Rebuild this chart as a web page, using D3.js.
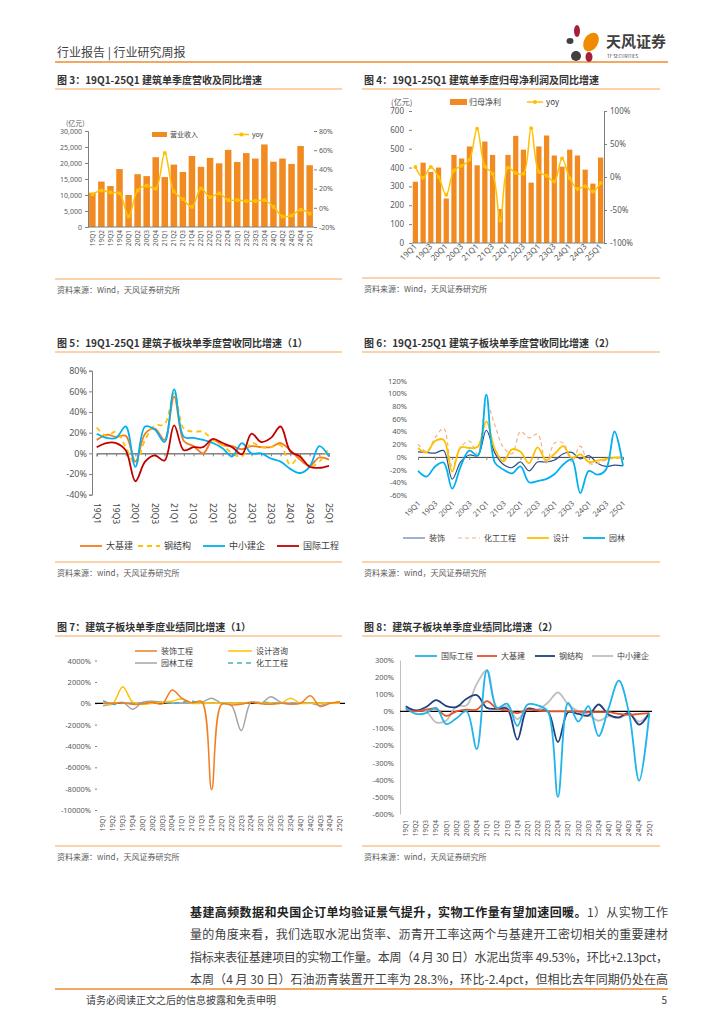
<!DOCTYPE html>
<meta charset="utf-8">

<!-- Load d3.js -->
<script src="https://d3js.org/d3.v7.min.js"></script>
<style>
  body { margin: 0; background: #fff; }
  svg text { font-family: "Noto Sans CJK SC", "Noto Sans", sans-serif; }
</style>

<div id="page"></div>
<script>
    // quarter labels shared by every chart
    const quarters = ["19Q1", "19Q2", "19Q3", "19Q4", "20Q1", "20Q2", "20Q3", "20Q4",
        "21Q1", "21Q2", "21Q3", "21Q4", "22Q1", "22Q2", "22Q3", "22Q4",
        "23Q1", "23Q2", "23Q3", "23Q4", "24Q1", "24Q2", "24Q3", "24Q4", "25Q1"];
    const everyOther = ["19Q1", "19Q3", "20Q1", "20Q3", "21Q1", "21Q3", "22Q1", "22Q3",
        "23Q1", "23Q3", "24Q1", "24Q3", "25Q1"];

    // fig 3: revenue (亿元) and yoy (%)
    const revenue = [10700, 14200, 12800, 18100, 10000, 16500, 15900, 21800, 15600, 19500, 17200, 22200,
        18800, 21600, 19900, 24100, 20300, 23100, 21400, 25800, 20400, 21400, 19700, 25300, 19300];
    const revenueYoy = [14, 18, 16, 15, -9, 18, 23, 20, 57, 17, 9, 1, 20, 11, 15, 8, 8, 7, 7, 8, 1, -9, -8, -2, -6];
    const revTicks = [0, 5000, 10000, 15000, 20000, 25000, 30000];
    const revYoyTicks = [-20, 0, 20, 40, 60, 80];

    // fig 4: net profit (亿元) and yoy (%)
    const netProfit = [325, 426, 377, 400, 236, 467, 448, 512, 412, 538, 467, 180, 467, 568, 495, 320,
        512, 570, 464, 405, 495, 464, 389, 315, 453];
    const netProfitYoy = [15, -1, 15, 0, -27, 10, 17, 26, 73, 16, 5, -66, 14, 6, 5, 74, 8, 2, -7, 28, -2, -18, -14, -22, -9];
    const profitTicks = [0, 100, 200, 300, 400, 500, 600, 700];
    const profitYoyTicks = [-100, -50, 0, 50, 100];

    // fig 5: revenue yoy by sub-sector (1), %
    const infra5 = [13, 18, 16, 17, -8, 19, 24, 13, 55, 12, 7, 0, 13, 8, 7, 4, 7, 6, 6, 10, 3, -6, -12, -4, -6];
    const steel5 = [25, 17, 21, 6, -10, 13, 27, 28, 58, 24, 21, 21, 13, 8, 0, -3, 10, 6, 6, 8, -11, -3, -13, -8, 5];
    const smallCo5 = [19, 15, 15, 26, -13, 26, 23, 11, 62, 16, 15, 13, 10, 5, -3, 10, 0, 0, -5, -8, -15, -19, -13, 7, -3];
    const intl5 = [6, 10, 10, 3, -27, -8, -2, -7, 27, 3, 6, 6, 14, 10, 6, -1, 19, 11, 15, 26, 2, -3, -13, -14, -12];
    const ticks5 = [-40, -20, 0, 20, 40, 60, 80];

    // fig 6: revenue yoy by sub-sector (2), %
    const deco6 = [8, 7, 6, 10, -35, -8, 3, 2, 42, 6, -12, -17, -8, -22, -8, -8, -5, 5, 7, -3, 2, -10, -15, -13, -14];
    const chem6 = [20, 8, 30, 45, -15, 15, 25, 5, 85, 50, 15, 5, 40, 30, 36, -10, 22, 22, -8, 17, -10, -10, -5, -2, -2];
    const design6 = [14, 7, 25, 27, -23, 15, 14, 16, 56, 12, -7, 12, 8, -10, 15, -5, 5, 17, -2, 4, -8, -6, -3, -1, -1];
    const garden6 = [-22, -31, -15, -9, -50, -15, 10, 2, 98, -9, -20, -26, -15, -40, -38, -35, -27, -12, -4, -57, -22, -28, -20, 40, -14];
    const ticks6 = [-60, -40, -20, 0, 20, 40, 60, 80, 100, 120];

    // fig 7: profit yoy by sub-sector (1), %
    const deco7 = [0, 0, 50, -100, -50, 100, -50, 1250, 450, 50, 150, -8100, -100, -150, -100, 100, -50, -100, 0, -50, 0, 700, -300, 0, 150];
    const design7 = [0, 0, 1550, 100, -100, 0, 100, 200, 400, 0, 0, 0, 0, 0, 0, 100, 0, 0, 0, 480, 0, 0, 0, 0, 0];
    const garden7 = [-220, -100, 100, -560, 100, 200, 100, 0, 0, 0, 100, 470, 0, -200, -2560, 100, 0, 620, 100, -100, 0, 0, -200, 0, 100];
    const chem7 = [250, -100, 0, 0, 0, 50, 100, 0, 100, 200, 0, 0, 0, 0, 0, 50, 100, 50, 0, 0, 0, 0, 0, 50, 100];
    const ticks7 = [-10000, -8000, -6000, -4000, -2000, 0, 2000, 4000];

    // fig 8: profit yoy by sub-sector (2), %
    const intl8 = [20, -15, -10, 20, -75, -40, 0, -220, 240, 20, 45, -85, 40, 35, 0, -500, 50, -60, 30, -145, 20, 180, -10, -405, -10];
    const infra8 = [10, 0, 10, 15, -27, 0, 10, 10, 60, 15, 5, -10, 10, 5, 0, 0, 0, 0, -5, -5, -5, -15, -20, -15, -10];
    const steel8 = [30, 5, 25, 65, 31, 25, 74, 95, 20, 15, 15, -165, 15, 5, 0, -180, -5, -15, -25, 40, -20, -35, -10, -78, -10];
    const smallCo8 = [20, 5, 0, -65, -53, 30, 35, 160, 240, 20, 30, -45, 15, 10, 50, 110, 40, 0, -20, -55, -30, -40, -15, -60, -10];
    const ticks8 = [-600, -500, -400, -300, -200, -100, 0, 100, 200, 300];

    const ORANGE = "#F28A22", GOLD = "#FFC000", GREY_TXT = "#595959";
    const pct = d => d + "%";

    const page = d3.select("#page").append("svg")
        .attr("width", 724)
        .attr("height", 1024);

    // ---------- header ----------
    page.append("text").attr("x", 57).attr("y", 57).attr("font-size", 12).attr("fill", "#3f3f3f")
        .text("行业报告 | 行业研究周报");
    page.append("line").attr("x1", 55).attr("x2", 668).attr("y1", 62).attr("y2", 62)
        .attr("stroke", "#EE8A2E").attr("stroke-width", 1.5);
    // logo petals
    const logo = page.append("g");
    logo.append("ellipse").attr("cx", 577).attr("cy", 31).attr("rx", 3).attr("ry", 6).attr("fill", "#A3213A");
    logo.append("ellipse").attr("cx", 591).attr("cy", 42).attr("rx", 7).attr("ry", 10).attr("transform", "rotate(30,591,42)").attr("fill", "#F08A00");
    logo.append("ellipse").attr("cx", 570).attr("cy", 41).attr("rx", 3.5).attr("ry", 3).attr("fill", "#404040");
    logo.append("circle").attr("cx", 576).attr("cy", 56).attr("r", 5).attr("fill", "#404040");
    logo.append("ellipse").attr("cx", 589).attr("cy", 57).attr("rx", 3.5).attr("ry", 5).attr("fill", "#A3213A");
    page.append("text").attr("x", 606).attr("y", 47).attr("font-size", 15).attr("font-weight", "bold")
        .attr("fill", "#404040").text("天风证券");
    page.append("text").attr("x", 607).attr("y", 58).attr("font-size", 4.5).attr("fill", "#404040")
        .text("TF SECURITIES");

    // ---------- panel frame: title, rules, source ----------
    function panel(x0, x1, titleY, title, srcRuleY, src) {
        page.append("text").attr("x", x0 + 2).attr("y", titleY).attr("font-size", 10).attr("font-weight", "bold")
            .attr("fill", "#333").text(title);
        page.append("line").attr("x1", x0).attr("x2", x1).attr("y1", titleY + 5).attr("y2", titleY + 5)
            .attr("stroke", "#F5A65B").attr("stroke-width", 1);
        page.append("line").attr("x1", x0).attr("x2", x1).attr("y1", srcRuleY).attr("y2", srcRuleY)
            .attr("stroke", "#F5A65B").attr("stroke-width", 1);
        page.append("text").attr("x", x0 + 2).attr("y", srcRuleY + 14).attr("font-size", 8)
            .attr("fill", GREY_TXT).text(src);
    }

    function styleAxis(g, size) {
        g.selectAll("text").attr("font-size", size).attr("fill", GREY_TXT)
            .style("font-family", '"Noto Sans", "Noto Sans CJK SC", sans-serif');
        g.selectAll("line").attr("stroke", "#7f7f7f");
        g.select(".domain").attr("stroke", "#7f7f7f");
        return g;
    }

    const smooth = d3.curveCatmullRom.alpha(0.5);

    function drawSeries(g, x, y, list) {
        list.forEach(function (s) {
            g.append("path")
                .datum(s.values)
                .attr("fill", "none")
                .attr("stroke", s.color)
                .attr("stroke-width", s.width || 1.5)
                .attr("stroke-dasharray", s.dash || null)
                .attr("d", d3.line()
                    .x(function (d, i) { return x(quarters[i]); })
                    .y(function (d) { return y(d); })
                    .curve(smooth));
        });
    }

    function legendItem(g, x, y, len, s, label, size) {
        g.append("line").attr("x1", x).attr("x2", x + len).attr("y1", y).attr("y2", y)
            .attr("stroke", s.color).attr("stroke-width", s.width || 1.5)
            .attr("stroke-dasharray", s.dash || null);
        g.append("text").attr("x", x + len + 4).attr("y", y + size * 0.38).attr("font-size", size)
            .attr("fill", "#404040").text(label);
    }

    // rotated category labels
    function xLabels(g, x, cats, y, angle, size, dx) {
        g.selectAll(null).data(cats).enter().append("text")
            .attr("transform", function (d) { return `translate(${x(d) + dx}, ${y}) rotate(${angle})`; })
            .attr("text-anchor", "end")
            .attr("font-size", size)
            .attr("fill", GREY_TXT)
            .style("font-family", '"Noto Sans", sans-serif')
            .text(function (d) { return d; });
    }

    // ---------- fig 3 ----------
    panel(55, 342, 84, "图 3：19Q1-25Q1 建筑单季度营收及同比增速", 279, "资料来源：Wind，天风证券研究所");
    const g3 = page.append("g");
    const x3 = d3.scaleBand().domain(quarters).range([88, 314]).paddingInner(0.28).paddingOuter(0.12);
    const y3 = d3.scaleLinear().domain([0, 30000]).range([227, 131]);
    const y3r = d3.scaleLinear().domain([-20, 80]).range([227, 131]);

    g3.selectAll(".bar").data(revenue).enter().append("rect")
        .attr("x", function (d, i) { return x3(quarters[i]); })
        .attr("y", function (d) { return y3(d); })
        .attr("width", x3.bandwidth())
        .attr("height", function (d) { return 227 - y3(d); })
        .attr("fill", ORANGE);

    styleAxis(g3.append("g").attr("transform", "translate(88,0)")
        .call(d3.axisLeft(y3).tickValues(revTicks).tickSize(3).tickPadding(3).tickFormat(d3.format(","))), 7);
    styleAxis(g3.append("g").attr("transform", "translate(314,0)")
        .call(d3.axisRight(y3r).tickValues(revYoyTicks).tickSize(3).tickPadding(2).tickFormat(pct)), 7)
        .select(".domain").remove();
    g3.append("line").attr("x1", 88).attr("x2", 314).attr("y1", 227).attr("y2", 227).attr("stroke", "#7f7f7f");
    xLabels(g3, function (d) { return x3(d) + x3.bandwidth() / 2; }, quarters, 230, -90, 6.5, 2.3);

    const yoyLine3 = d3.line().x(function (d, i) { return x3(quarters[i]) + x3.bandwidth() / 2; })
        .y(function (d) { return y3r(d); }).curve(smooth);
    g3.append("path").datum(revenueYoy).attr("fill", "none").attr("stroke", GOLD).attr("stroke-width", 1.5).attr("d", yoyLine3);
    g3.selectAll(".m3").data(revenueYoy).enter().append("rect")
        .attr("x", function (d, i) { return x3(quarters[i]) + x3.bandwidth() / 2 - 1.8; })
        .attr("y", function (d) { return y3r(d) - 1.8; })
        .attr("width", 3.6).attr("height", 3.6).attr("fill", GOLD);

    g3.append("text").attr("x", 66).attr("y", 126).attr("font-size", 7).attr("fill", GREY_TXT).text("(亿元)");
    g3.append("rect").attr("x", 152).attr("y", 132).attr("width", 15).attr("height", 5).attr("fill", ORANGE);
    g3.append("text").attr("x", 170).attr("y", 137).attr("font-size", 7).attr("fill", "#404040").text("营业收入");
    g3.append("line").attr("x1", 234).attr("x2", 249).attr("y1", 134.5).attr("y2", 134.5).attr("stroke", GOLD).attr("stroke-width", 1.5);
    g3.append("rect").attr("x", 239.7).attr("y", 132.7).attr("width", 3.6).attr("height", 3.6).attr("fill", GOLD);
    g3.append("text").attr("x", 252).attr("y", 137).attr("font-size", 7).attr("fill", "#404040").text("yoy");

    // ---------- fig 4 ----------
    panel(362, 660, 84, "图 4：19Q1-25Q1 建筑单季度归母净利润及同比增速", 278, "资料来源：Wind，天风证券研究所");
    const g4 = page.append("g");
    const x4 = d3.scaleBand().domain(quarters).range([412, 604]).paddingInner(0.32).paddingOuter(0.1);
    const y4 = d3.scaleLinear().domain([0, 700]).range([243, 111]);
    const y4r = d3.scaleLinear().domain([-100, 100]).range([243, 111]);

    g4.selectAll(".bar").data(netProfit).enter().append("rect")
        .attr("x", function (d, i) { return x4(quarters[i]); })
        .attr("y", function (d) { return y4(d); })
        .attr("width", x4.bandwidth())
        .attr("height", function (d) { return 243 - y4(d); })
        .attr("fill", ORANGE);

    styleAxis(g4.append("g").attr("transform", "translate(412,0)")
        .call(d3.axisLeft(y4).tickValues(profitTicks).tickSize(3).tickPadding(5)), 8)
        .select(".domain").remove();
    styleAxis(g4.append("g").attr("transform", "translate(604,0)")
        .call(d3.axisRight(y4r).tickValues(profitYoyTicks).tickSize(3).tickPadding(3).tickFormat(pct)), 8);
    g4.append("line").attr("x1", 412).attr("x2", 604).attr("y1", 243).attr("y2", 243).attr("stroke", "#7f7f7f");
    xLabels(g4, function (d) { return x4(d) + x4.bandwidth() / 2; }, everyOther, 247, -45, 8, 2);

    const yoyLine4 = d3.line().x(function (d, i) { return x4(quarters[i]) + x4.bandwidth() / 2; })
        .y(function (d) { return y4r(d); }).curve(smooth);
    g4.append("path").datum(netProfitYoy).attr("fill", "none").attr("stroke", GOLD).attr("stroke-width", 1.5).attr("d", yoyLine4);
    g4.selectAll(".m4").data(netProfitYoy).enter().append("circle")
        .attr("cx", function (d, i) { return x4(quarters[i]) + x4.bandwidth() / 2; })
        .attr("cy", function (d) { return y4r(d); })
        .attr("r", 2).attr("fill", GOLD);

    g4.append("text").attr("x", 391).attr("y", 105).attr("font-size", 8).attr("fill", GREY_TXT).text("(亿元)");
    g4.append("rect").attr("x", 450).attr("y", 99).attr("width", 17).attr("height", 6).attr("fill", ORANGE);
    g4.append("text").attr("x", 469).attr("y", 105).attr("font-size", 8).attr("fill", "#404040").text("归母净利");
    g4.append("line").attr("x1", 527).attr("x2", 543).attr("y1", 102).attr("y2", 102).attr("stroke", GOLD).attr("stroke-width", 1.5);
    g4.append("circle").attr("cx", 535).attr("cy", 102).attr("r", 2).attr("fill", GOLD);
    g4.append("text").attr("x", 546).attr("y", 105).attr("font-size", 8).attr("fill", "#404040").text("yoy");

    // ---------- fig 5 ----------
    panel(55, 342, 347, "图 5：19Q1-25Q1 建筑子板块单季度营收同比增速（1）", 562, "资料来源：wind，天风证券研究所");
    const g5 = page.append("g");
    const x5 = d3.scalePoint().domain(quarters).range([96.7, 329]);
    const y5 = d3.scaleLinear().domain([-40, 80]).range([494.7, 370.7]);
    styleAxis(g5.append("g").attr("transform", "translate(92,0)")
        .call(d3.axisLeft(y5).tickValues(ticks5).tickSize(3).tickPadding(2).tickFormat(pct)), 9);
    styleAxis(g5.append("g").attr("transform", `translate(0,${y5(0)})`)
        .call(d3.axisBottom(x5).tickSize(3).tickFormat("")), 8)
        .select(".domain").attr("stroke", "#404040");
    g5.selectAll(null).data(everyOther).enter().append("text")
        .attr("transform", function (d) { return `translate(${x5(d) - 3}, 503) rotate(90)`; })
        .attr("font-size", 8.5).attr("fill", "#404040")
        .style("font-family", '"Noto Sans", sans-serif')
        .text(function (d) { return d; });

    const s5 = [
        { values: infra5, color: "#F47B20", width: 1.8, name: "大基建" },
        { values: steel5, color: GOLD, width: 1.8, dash: "5,4", name: "钢结构" },
        { values: smallCo5, color: "#00B0F0", width: 1.8, name: "中小建企" },
        { values: intl5, color: "#C00000", width: 1.8, name: "国际工程" }
    ];
    drawSeries(g5, x5, y5, s5);
    [80, 138, 203, 277].forEach(function (lx, i) { legendItem(g5, lx, 546, 22, s5[i], s5[i].name, 9); });

    // ---------- fig 6 ----------
    panel(362, 660, 347, "图 6：19Q1-25Q1 建筑子板块单季度营收同比增速（2）", 562, "资料来源：wind，天风证券研究所");
    const g6 = page.append("g");
    const x6 = d3.scalePoint().domain(quarters).range([418, 623]);
    const y6 = d3.scaleLinear().domain([-60, 120]).range([495, 380.7]);
    styleAxis(g6.append("g").attr("transform", "translate(412,0)")
        .call(d3.axisLeft(y6).tickValues(ticks6).tickSize(0).tickPadding(5).tickFormat(pct)), 7.5)
        .select(".domain").remove();
    styleAxis(g6.append("g").attr("transform", `translate(0,${y6(0)})`)
        .call(d3.axisBottom(x6).tickValues(everyOther).tickSize(3).tickFormat("")), 8)
        .select(".domain").attr("stroke", "#404040");
    xLabels(g6, x6, everyOther, 504, -45, 7.5, 3);

    const s6 = [
        { values: deco6, color: "#2E4D8C", width: 1.2, name: "装饰" },
        { values: chem6, color: "#F4B183", width: 1.2, dash: "4,3", name: "化工工程" },
        { values: design6, color: GOLD, width: 1.8, name: "设计" },
        { values: garden6, color: "#00B0F0", width: 1.8, name: "园林" }
    ];
    drawSeries(g6, x6, y6, s6);
    [403, 458, 527, 583].forEach(function (lx, i) {
        legendItem(g6, lx, 538, 22, i === 0 ? { color: "#5B7DB8", width: 1.2 } : s6[i], s6[i].name, 8);
    });

    // ---------- fig 7 ----------
    panel(55, 342, 631, "图 7：建筑子板块单季度业绩同比增速（1）", 846, "资料来源：wind，天风证券研究所");
    const g7 = page.append("g");
    const x7 = d3.scalePoint().domain(quarters).range([103, 340]);
    const y7 = d3.scaleLinear().domain([-10000, 4000]).range([810, 660.6]);
    styleAxis(g7.append("g").attr("transform", "translate(97,0)")
        .call(d3.axisLeft(y7).tickValues(ticks7).tickSize(2).tickPadding(4).tickFormat(pct)), 7.5)
        .select(".domain").remove();
    g7.append("line").attr("x1", 95).attr("x2", 345).attr("y1", y7(0)).attr("y2", y7(0)).attr("stroke", "#000").attr("stroke-width", 1.2);
    xLabels(g7, x7, quarters, 815, -90, 6.5, 2.3);

    const s7 = [
        { values: garden7, color: "#A5A5A5", width: 1.5, name: "园林工程" },
        { values: chem7, color: "#4BACC6", width: 1.5, dash: "5,4", name: "化工工程" },
        { values: design7, color: GOLD, width: 1.5, name: "设计咨询" },
        { values: deco7, color: "#F07F22", width: 1.5, name: "装饰工程" }
    ];
    drawSeries(g7, x7, y7, s7);
    legendItem(g7, 135, 651, 22, s7[3], "装饰工程", 8);
    legendItem(g7, 228, 651, 24, s7[2], "设计咨询", 8);
    legendItem(g7, 135, 663, 22, s7[0], "园林工程", 8);
    legendItem(g7, 228, 663, 24, s7[1], "化工工程", 8);

    // ---------- fig 8 ----------
    panel(362, 660, 631, "图 8：建筑子板块单季度业绩同比增速（2）", 846, "资料来源：wind，天风证券研究所");
    const g8 = page.append("g");
    const x8 = d3.scalePoint().domain(quarters).range([405.7, 649.3]);
    const y8 = d3.scaleLinear().domain([-600, 300]).range([814, 660]);
    styleAxis(g8.append("g").attr("transform", "translate(400,0)")
        .call(d3.axisLeft(y8).tickValues(ticks8).tickSize(0).tickPadding(6).tickFormat(pct)), 7.5)
        .select(".domain").attr("stroke", "#bfbfbf");
    g8.append("line").attr("x1", 400).attr("x2", 652).attr("y1", y8(0)).attr("y2", y8(0)).attr("stroke", "#000").attr("stroke-width", 1.2);
    xLabels(g8, x8, quarters, 820, -90, 6.5, 2.3);

    const s8 = [
        { values: smallCo8, color: "#BFBFBF", width: 1.8, name: "中小建企" },
        { values: steel8, color: "#1F3F7F", width: 1.8, name: "钢结构" },
        { values: infra8, color: "#E8502A", width: 1.8, name: "大基建" },
        { values: intl8, color: "#1FB4EC", width: 1.8, name: "国际工程" }
    ];
    drawSeries(g8, x8, y8, s8);
    legendItem(g8, 415, 656, 22, s8[3], "国际工程", 8);
    legendItem(g8, 477, 656, 20, s8[2], "大基建", 8);
    legendItem(g8, 535, 656, 20, s8[1], "钢结构", 8);
    legendItem(g8, 592, 656, 21, s8[0], "中小建企", 8);

    // ---------- body text ----------
    const body = page.append("g").attr("font-size", 12).attr("fill", "#404040");
    const l1 = body.append("text").attr("x", 190).attr("y", 917).attr("textLength", 478).attr("lengthAdjust", "spacing");
    l1.append("tspan").attr("font-weight", "bold").attr("fill", "#222").text("基建高频数据和央国企订单均验证景气提升，实物工作量有望加速回暖。");
    l1.append("tspan").text("1）从实物工作");
    body.append("text").attr("x", 190).attr("y", 939).attr("textLength", 478).attr("lengthAdjust", "spacing")
        .text("量的角度来看，我们选取水泥出货率、沥青开工率这两个与基建开工密切相关的重要建材");
    body.append("text").attr("x", 190).attr("y", 962).attr("textLength", 478).attr("lengthAdjust", "spacing")
        .text("指标来表征基建项目的实物工作量。本周（4 月 30 日）水泥出货率 49.53%，环比+2.13pct，");
    body.append("text").attr("x", 190).attr("y", 984).attr("textLength", 478).attr("lengthAdjust", "spacing")
        .text("本周（4 月 30 日）石油沥青装置开工率为 28.3%，环比-2.4pct，但相比去年同期仍处在高");

    // ---------- footer ----------
    page.append("line").attr("x1", 55).attr("x2", 668).attr("y1", 989).attr("y2", 989)
        .attr("stroke", "#EE8A2E").attr("stroke-width", 1.5);
    page.append("text").attr("x", 86).attr("y", 1004).attr("font-size", 10).attr("fill", "#404040")
        .text("请务必阅读正文之后的信息披露和免责申明");
    page.append("text").attr("x", 667).attr("y", 1004).attr("font-size", 10).attr("text-anchor", "end")
        .attr("fill", "#404040").text("5");
</script>
